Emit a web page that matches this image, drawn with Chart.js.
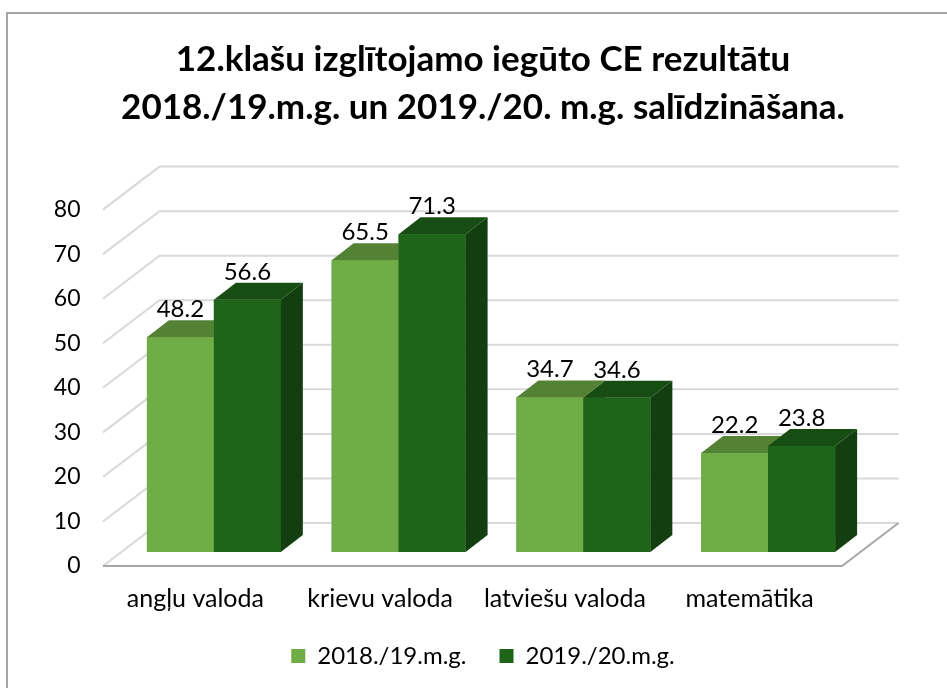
<!DOCTYPE html>
<html>
<head>
<meta charset="utf-8">
<script src="https://cdn.jsdelivr.net/npm/chart.js@4.4.1/dist/chart.umd.min.js"></script>
<style>
  html, body { margin: 0; padding: 0; background: #fff; }
  canvas { display: block; }
</style>
</head>
<body>
<canvas id="chart" width="947" height="688"></canvas>
<script>
"use strict";

// chart data
const categories = ["angļu valoda", "krievu valoda", "latviešu valoda", "matemātika"];
const seriesNames = ["2018./19.m.g.", "2019./20.m.g."];
const results1819 = [48.2, 65.5, 34.7, 22.2];
const results1920 = [56.6, 71.3, 34.6, 23.8];
const yTickValues = [0, 10, 20, 30, 40, 50, 60, 70, 80];
const titleLines = [
  "12.klašu izglītojamo iegūto CE rezultātu",
  "2018./19.m.g. un 2019./20. m.g. salīdzināšana."
];

// fake 3D depth offsets in px
const BAR_DX = 22, BAR_DY = 17;
const BACK_DX = 38, BACK_DY = 29;
const FRONT_DX = -18.5, FRONT_DY = 14;

const FONT = "Lato";

// draws walls, floor, bar boxes and value labels
const threeD = {
  id: "threeD",
  beforeDraw(chart) {
    const ctx = chart.ctx;
    ctx.save();
    ctx.fillStyle = "#fff";
    ctx.fillRect(0, 0, chart.width, chart.height);
    ctx.strokeStyle = "#a6a6a6";
    ctx.lineWidth = 2;
    ctx.strokeRect(7, 13, chart.width + 20, chart.height + 20);
    ctx.restore();
  },
  beforeDatasetsDraw(chart) {
    const { ctx, chartArea: a } = chart;
    const y = chart.scales.y;
    ctx.save();
    ctx.lineWidth = 2;
    ctx.strokeStyle = "#d9d9d9";
    yTickValues.forEach((v) => {
      const py = y.getPixelForValue(v);
      ctx.beginPath();
      ctx.moveTo(a.left + FRONT_DX, py + FRONT_DY);
      ctx.lineTo(a.left + BACK_DX, py - BACK_DY);
      ctx.lineTo(a.right + BACK_DX, py - BACK_DY);
      ctx.stroke();
    });
    // floor edges
    const p0 = y.getPixelForValue(0);
    ctx.strokeStyle = "#a6a6a6";
    ctx.beginPath();
    ctx.moveTo(a.left + FRONT_DX, p0 + FRONT_DY);
    ctx.lineTo(a.right + FRONT_DX, p0 + FRONT_DY);
    ctx.lineTo(a.right + BACK_DX, p0 - BACK_DY);
    ctx.stroke();
    ctx.restore();
  },
  afterDatasetsDraw(chart) {
    const ctx = chart.ctx;
    const datasets = chart.data.datasets;
    const metas = datasets.map((d, i) => chart.getDatasetMeta(i));
    ctx.save();

    // boxes, category by category, series left to right
    categories.forEach((c, i) => {
      metas.forEach((meta, d) => {
        const ds = datasets[d];
        const { x, y, base, width } = meta.data[i].getProps(["x", "y", "base", "width"], true);
        const l = x - width / 2;
        const r = x + width / 2;

        // front face
        ctx.fillStyle = ds.backgroundColor;
        ctx.fillRect(l, y, width, base - y);

        // side face
        ctx.fillStyle = ds.sideColor;
        ctx.beginPath();
        ctx.moveTo(r, y);
        ctx.lineTo(r + BAR_DX, y - BAR_DY);
        ctx.lineTo(r + BAR_DX, base - BAR_DY);
        ctx.lineTo(r, base);
        ctx.closePath();
        ctx.fill();

        // top face
        ctx.fillStyle = ds.topColor;
        ctx.beginPath();
        ctx.moveTo(l, y);
        ctx.lineTo(l + BAR_DX, y - BAR_DY);
        ctx.lineTo(r + BAR_DX, y - BAR_DY);
        ctx.lineTo(r, y);
        ctx.closePath();
        ctx.fill();
      });
    });

    // value labels on top
    ctx.fillStyle = "#000";
    ctx.font = "24px " + FONT;
    ctx.textAlign = "center";
    ctx.textBaseline = "middle";
    metas.forEach((meta, d) => {
      meta.data.forEach((bar, i) => {
        const { x, y } = bar.getProps(["x", "y"], true);
        ctx.fillText(datasets[d].data[i].toFixed(1), x, y - BAR_DY - 11);
      });
    });
    ctx.restore();
  }
};

const ctx = document.getElementById("chart").getContext("2d");

new Chart(ctx, {
  type: "bar",
  data: {
    labels: categories,
    datasets: [
      {
        label: seriesNames[0],
        data: results1819,
        backgroundColor: "#70ad47",
        topColor: "#548235",
        sideColor: "#4b7530"
      },
      {
        label: seriesNames[1],
        data: results1920,
        backgroundColor: "#1e6419",
        topColor: "#174c13",
        sideColor: "#133f10"
      }
    ]
  },
  options: {
    responsive: false,
    animation: false,
    events: [],
    layout: {
      padding: { left: 19, right: 0, top: 0, bottom: 10 }
    },
    datasets: {
      bar: {
        categoryPercentage: 0.725,
        barPercentage: 1.0,
        borderWidth: 0
      }
    },
    plugins: {
      title: {
        display: true,
        text: titleLines,
        color: "#000",
        font: { family: FONT, size: 35, weight: "bold", lineHeight: 1.373 },
        padding: { top: 36, bottom: 63.5 }
      },
      legend: {
        position: "bottom",
        labels: {
          color: "#000",
          font: { family: FONT, size: 24 },
          boxWidth: 14,
          boxHeight: 14,
          padding: 33,
          sort: (a, b) => a.datasetIndex - b.datasetIndex
        }
      },
      tooltip: { enabled: false }
    },
    scales: {
      x: {
        grid: { display: false },
        border: { display: false },
        ticks: {
          color: "#000",
          font: { family: FONT, size: 25 },
          labelOffset: FRONT_DX,
          padding: 24,
          maxRotation: 0
        },
        afterFit: (s) => { s.height = 59; }
      },
      y: {
        min: 0,
        max: 80,
        grid: { display: false, drawTicks: false },
        border: { display: false },
        ticks: {
          stepSize: 10,
          color: "#000",
          font: { family: FONT, size: 23 },
          labelOffset: FRONT_DY,
          padding: 41
        },
        afterFit: (s) => { s.width = 102.5; }
      },
      // empty right axis, only keeps room for the 3D depth
      yRight: {
        position: "right",
        grid: { display: false },
        border: { display: false },
        ticks: { display: false },
        afterFit: (s) => { s.width = 86.5; }
      }
    }
  },
  plugins: [threeD]
});
</script>
</body>
</html>
